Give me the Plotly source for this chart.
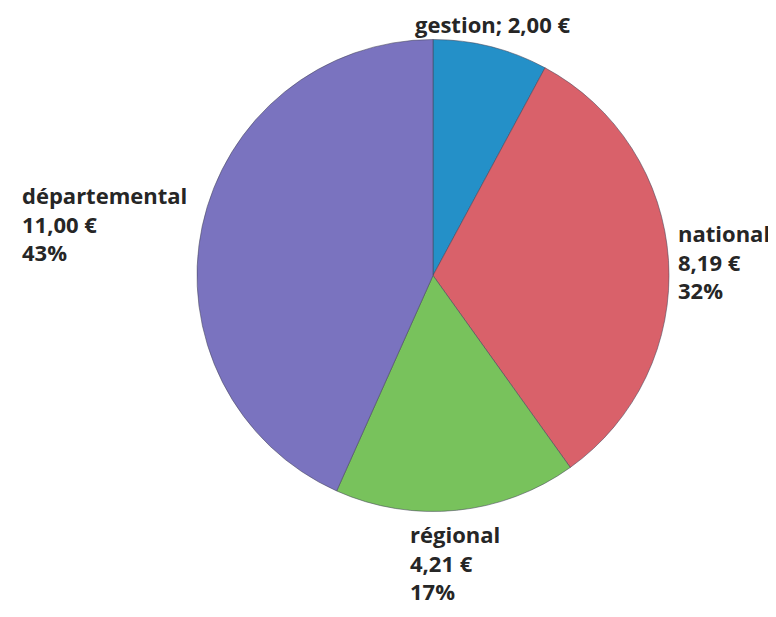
import plotly.graph_objects as go

# Data
categories = ["gestion", "national", "régional", "départemental"]
values = [2.00, 8.19, 4.21, 11.00]
colors = ["#2490c8", "#d9616a", "#78c25c", "#7a73bf"]

total = sum(values)

def eur(v):
    return f"{v:,.2f}".replace(",", " ").replace(".", ",") + " €"

def pct(v):
    return f"{round(100 * v / total):d}%"

# page is 776x617; the HTML body adds an 8px margin around the figure
PAGE_W, PAGE_H = 776, 617
OFF = 8
W, H = PAGE_W - OFF, PAGE_H - 2 * OFF

def fx(px):
    return (px - OFF) / W

def fy(py):
    return 1 - (py - OFF) / H

fig = go.Figure(
    go.Pie(
        labels=categories,
        values=values,
        sort=False,
        direction="clockwise",
        rotation=0,
        marker=dict(colors=colors, line=dict(color="rgba(70,70,90,0.55)", width=1)),
        textinfo="none",
        hoverinfo="label+value+percent",
        domain=dict(x=[fx(433 - 236), fx(433 + 236)], y=[fy(513), fy(38)]),
        showlegend=False,
    )
)

font = dict(family="'Open Sans', Lato, sans-serif", size=22, color="#262626")

# label anchors in page pixels: (x, y, xanchor, yanchor)
label_pos = {
    "gestion": (492, 8, "center", "top"),
    "national": (677, 217, "left", "top"),
    "régional": (409, 607, "left", "bottom"),
    "départemental": (21, 179, "left", "top"),
}

for c, v in zip(categories, values):
    if c == "gestion":
        txt = f"<b>{c}; {eur(v)}</b>"
    else:
        txt = f"<b>{c}<br>{eur(v)}<br>{pct(v)}</b>"
    px, py, xa, ya = label_pos[c]
    fig.add_annotation(
        x=fx(px), y=fy(py), xref="paper", yref="paper",
        xanchor=xa, yanchor=ya, align="left",
        text=txt, showarrow=False, font=font, borderpad=0,
    )

fig.update_layout(
    width=W, height=H,
    margin=dict(l=0, r=0, t=0, b=0),
    paper_bgcolor="white",
    plot_bgcolor="white",
)

fig.write_html("out.html")
